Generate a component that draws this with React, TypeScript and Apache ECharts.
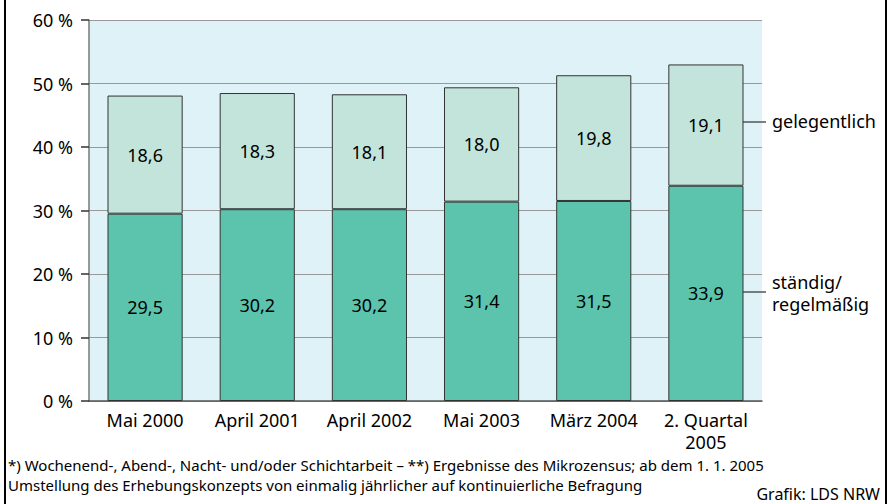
import React, { useEffect, useRef } from "react";
import * as echarts from "echarts";

const categories = ["Mai 2000", "April 2001", "April 2002", "Mai 2003", "März 2004", "2. Quartal\n2005"];
const regular = [29.5, 30.2, 30.2, 31.4, 31.5, 33.9];
const occasional = [18.6, 18.3, 18.1, 18.0, 19.8, 19.1];
const yTicks = [0, 10, 20, 30, 40, 50, 60];

const FONT = "'Noto Sans', 'DejaVu Sans', sans-serif";

export default function App() {
  const ref = useRef<HTMLDivElement>(null);
  useEffect(() => {
    if (!ref.current) return;
    const chart = echarts.init(ref.current, undefined, { renderer: "svg" });
    const fmt = (p: any) => String(p.value.toFixed(1)).replace(".", ",");
    const txt = (x: number, y: number, text: string, fontSize: number, align = "left") => ({
      type: "text", x, y, style: { text, fontSize, fontFamily: FONT, fill: "#000", align, verticalAlign: "middle" },
    });
    chart.setOption({
      animation: false,
      textStyle: { fontFamily: FONT },
      grid: { left: 89, right: 134, top: 20, bottom: 103, show: true, backgroundColor: "#dff2f8", borderWidth: 0 },
      xAxis: {
        type: "category",
        data: categories,
        axisLine: { lineStyle: { color: "#555", width: 1.5 } },
        axisTick: { show: false },
        axisLabel: { color: "#000", fontSize: 18, fontFamily: FONT, margin: 8, lineHeight: 22, interval: 0 },
      },
      yAxis: {
        type: "value",
        min: yTicks[0],
        max: yTicks[yTicks.length - 1],
        interval: 10,
        axisLine: { show: true, lineStyle: { color: "#777", width: 1.5 } },
        axisTick: { show: true, length: 8, lineStyle: { color: "#333", width: 1.5 } },
        splitLine: { lineStyle: { color: "#999", width: 1 } },
        axisLabel: { color: "#000", fontSize: 18, fontFamily: FONT, margin: 16, formatter: (v: number) => v + " %" },
      },
      series: [
        {
          name: "ständig/regelmäßig",
          type: "bar",
          stack: "a",
          data: regular,
          barWidth: "67%",
          itemStyle: { color: "#5cc4ad", borderColor: "#333", borderWidth: 1 },
          label: { show: true, position: "inside", color: "#000", fontSize: 18, fontFamily: FONT, formatter: fmt },
        },
        {
          name: "gelegentlich",
          type: "bar",
          stack: "a",
          data: occasional,
          barWidth: "67%",
          itemStyle: { color: "#c3e4da", borderColor: "#333", borderWidth: 1 },
          label: { show: true, position: "inside", color: "#000", fontSize: 18, fontFamily: FONT, formatter: fmt },
        },
      ],
      graphic: [
        { type: "line", shape: { x1: 5, y1: 0, x2: 5, y2: 504 }, style: { stroke: "#000", lineWidth: 2 } },
        { type: "line", shape: { x1: 886, y1: 0, x2: 886, y2: 504 }, style: { stroke: "#000", lineWidth: 2 } },
        { type: "line", shape: { x1: 737, y1: 122, x2: 766, y2: 122 }, style: { stroke: "#555", lineWidth: 1.5 } },
        { type: "line", shape: { x1: 737, y1: 292, x2: 766, y2: 292 }, style: { stroke: "#555", lineWidth: 1.5 } },
        txt(772, 121, "gelegentlich", 18),
        txt(772, 282, "ständig/", 18),
        txt(772, 304, "regelmäßig", 18),
        txt(8, 465, "*) Wochenend-, Abend-, Nacht- und/oder Schichtarbeit – **) Ergebnisse des Mikrozensus; ab dem 1. 1. 2005", 15),
        txt(8, 485, "Umstellung des Erhebungskonzepts von einmalig jährlicher auf kontinuierliche Befragung", 15),
        txt(880, 494, "Grafik: LDS NRW", 16, "right"),
      ],
    });
    return () => chart.dispose();
  }, []);
  return <div ref={ref} style={{ position: "absolute", left: 0, top: 0, width: 896, height: 504, background: "#fff" }} />;
}
